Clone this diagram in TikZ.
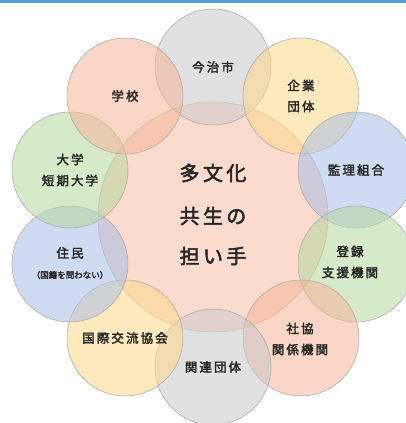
\documentclass[tikz,border=0pt]{standalone}
\usepackage{fontspec}
\newfontfamily\jp{Noto Sans CJK JP}[AutoFakeBold=2.5]
\definecolor{cgray}{HTML}{C9C9C9}
\definecolor{cyel}{HTML}{FFD98A}
\definecolor{cblue}{HTML}{A9BFE6}
\definecolor{cgreen}{HTML}{B5D9A0}
\definecolor{csal}{HTML}{F5B596}
\definecolor{ccen}{HTML}{F6BFA6}
\definecolor{bar}{HTML}{5B9BD5}
\definecolor{txt}{HTML}{262626}
\tikzset{lab/.style={font=\jp\bfseries\fontsize{12.5}{14}\selectfont,text=txt,align=center}}
\begin{document}
\begin{tikzpicture}[x=1pt,y=-1pt,
  sat/.style={circle,minimum size=116pt,inner sep=0pt,draw=black!35,line width=0.5pt,fill opacity=0.55,text opacity=1,lab},
  cen/.style={circle,minimum size=230pt,inner sep=0pt,draw=black!30,line width=0.5pt,fill=ccen,fill opacity=0.55,text opacity=1},
  big/.style={font=\jp\bfseries\fontsize{20}{24}\selectfont,text=txt}]
\useasboundingbox[fill=white] (0,0) rectangle (406,423);
\fill[bar] (0,0) rectangle (406,3);
\node[cen] (c) at (213,217) {};
\node[sat,fill=cgray] (s1) at (213,67) {今\,治\,市};
\node[sat,fill=cyel] (s2) at (301,96) {企\,業\\[7pt]団\,体};
\node[sat,fill=cblue] (s3) at (356,170) {監\,理\,組\,合};
\node[sat,fill=cgreen] (s4) at (356,264) {};
\node[sat,fill=csal] (s5) at (301,338) {};
\node[sat,fill=cgray] (s6) at (213,367) {関\,連\,団\,体};
\node[sat,fill=cyel] (s7) at (125,338) {};
\node[sat,fill=cblue] (s8) at (70,264) {};
\node[sat,fill=cgreen] (s9) at (70,170) {大\,学\\[7pt]短\,期\,大\,学};
\node[sat,fill=csal] (s10) at (125,96) {学\,校};
\node[lab] (t4) at (350,262) {登\,録\\[7pt]支\,援\,機\,関};
\node[lab] (t5) at (300,339) {社\,協\\[7pt]関\,係\,機\,関};
\node[lab] (t7) at (125,338) {国\,際\,交\,流\,協\,会};
\node[lab] (t8a) at (70,253) {住\,民};
\node[font=\jp\bfseries\fontsize{8.5}{10}\selectfont,text=txt] (t8b) at (70,275) {（国籍を問わない）};
\node[big] (m1) at (213,173) {多\,文\,化};
\node[big] (m2) at (213,216) {共\,生\,の};
\node[big] (m3) at (213,256) {担\,い\,手};
\end{tikzpicture}
\end{document}
